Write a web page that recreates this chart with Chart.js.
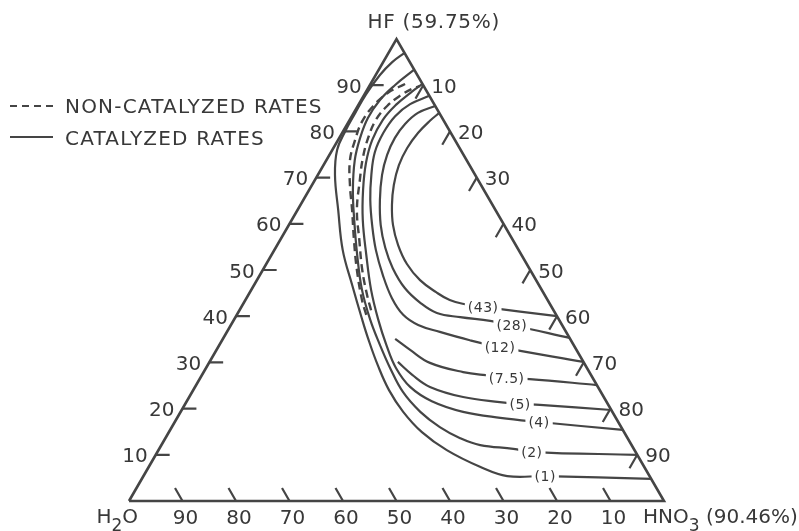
<!DOCTYPE html>
<html>
<head>
<meta charset="utf-8">
<script src="https://cdn.jsdelivr.net/npm/chart.js@4.4.1/dist/chart.umd.min.js"></script>
<style>
html, body { margin: 0; padding: 0; background: #fff; }
canvas { display: block; }
</style>
</head>
<body>
<canvas id="chart" width="799" height="531"></canvas>
<script>
// Compositions are written as [HNO3 %, HF %]; H2O makes up the remainder.

// Catalyzed etch-rate contours, listed from the HNO3-HF edge inwards.
const rateValues = [43, 28, 12, 7.5, 5, 4, 2, 1];

const curve43 = [[60.0,40.0],[45.2,42.0],[41.5,42.6],[38.2,43.5],[34.8,45.2],[30.5,47.8],[26.3,51.3],[22.6,55.4],[19.5,59.7],[17.1,64.1],[15.3,68.4],[14.1,72.7],[13.8,76.4],[14.2,79.7],[15.1,82.3],[16.0,84.0]];
const curve28 = [[64.7,35.3],[52.5,38.1],[48.0,39.0],[42.0,39.8],[37.2,40.7],[33.0,42.9],[28.5,46.1],[24.1,50.4],[20.5,54.8],[17.2,59.7],[14.3,65.2],[12.0,70.6],[10.8,74.9],[10.4,78.6],[10.8,81.6],[12.0,84.0],[14.5,85.5]];
const curve12 = [[69.9,30.1],[52.7,33.3],[46.3,34.8],[39.8,36.6],[35.0,38.1],[31.1,40.3],[27.2,43.9],[23.0,48.9],[19.0,54.3],[15.6,59.7],[12.5,65.2],[10.0,70.6],[8.2,75.5],[7.7,79.7],[8.1,83.3],[9.6,85.9],[12.3,87.7]];
const curve7p5 = [[74.9,25.1],[61.7,26.4],[57.3,26.6],[54.0,27.1],[48.5,27.9],[41.3,29.9],[36.2,32.7],[32.2,35.1]];
const curve5 = [[80.3,19.7],[66.4,20.8],[62.6,21.0],[58.6,21.4],[51.2,22.5],[43.9,24.7],[39.3,27.3],[35.2,30.1]];
const curve4 = [[84.6,15.4],[68.1,17.1],[60.4,18.0],[52.8,19.3],[45.8,21.6],[40.2,24.7],[35.5,28.8],[31.2,33.8],[27.0,39.2],[22.4,45.7],[17.7,53.3],[13.3,60.8],[10.1,67.3],[7.7,73.2],[6.4,78.1],[6.2,82.5],[7.1,85.9],[8.4,88.3],[9.7,90.3]];
const curve2 = [[90.0,10.0],[70.0,10.6],[66.2,11.3],[59.6,12.1],[55.1,13.6],[50.1,16.0],[44.8,19.3],[39.4,23.6],[34.4,28.8],[30.0,33.8],[25.5,39.2],[20.7,45.7],[16.0,53.3],[11.7,60.8],[8.2,67.3],[5.3,73.8],[3.9,78.6],[3.2,82.9],[3.5,86.8],[4.7,90.0],[6.6,93.3]];
const curve1 = [[95.2,4.8],[75.1,5.4],[68.0,5.4],[61.9,7.4],[53.9,11.0],[47.3,14.9],[41.6,19.3],[36.6,24.0],[31.8,29.4],[27.4,34.8],[23.7,39.6],[18.3,46.8],[12.8,54.3],[7.6,63.0],[3.2,70.6],[0.9,76.0],[0.4,80.0],[0.3,84.0],[0.3,88.0],[0.8,92.2],[1.7,95.0],[3.0,97.0]];

// Point of each contour where its rate label sits.
const labelIndex = [1, 1, 1, 2, 2, 1, 1, 1];

// Non-catalyzed rates.
const plainCurveA = [[24.2,40.3],[21.8,43.5],[17.6,50.0],[13.8,56.5],[10.2,63.0],[7.1,68.4],[4.4,73.8],[3.2,78.1],[2.5,82.0],[2.9,85.5],[4.2,88.3],[6.5,90.3]];
const plainCurveB = [[24.6,41.3],[22.2,44.6],[18.6,50.0],[14.8,56.5],[11.1,63.0],[8.4,69.5],[6.6,74.2],[5.4,78.6],[4.9,82.5],[5.5,85.5],[6.8,87.7],[8.3,89.2],[9.4,89.8]];

// Axis graduations (percent).
const edgeTicks = [10, 20, 30, 40, 50, 60, 70, 80, 90];
const waterTicks = [90, 80, 70, 60, 50, 40, 30, 20, 10];

const vertexHF = 'HF (59.75%)';
const vertexHNO3 = ['HNO', '3', ' (90.46%)'];
const vertexH2O = ['H', '2', 'O'];
const legendDashed = 'NON-CATALYZED RATES';
const legendSolid = 'CATALYZED RATES';

// ---------------------------------------------------------------
const catalyzedCurves = [curve43, curve28, curve12, curve7p5, curve5, curve4, curve2, curve1];
const INK = '#454545';
const TEXT = '#383838';
const FONT = '"DejaVu Sans", "Liberation Sans", sans-serif';
const H = Math.sqrt(3) / 2;

// Ternary [HNO3, HF] -> plane coordinates (H2O at origin, HNO3 to the right).
function toPlane(c) {
  return { x: c[0] + c[1] / 2, y: c[1] * H };
}
const GAP = { x: null, y: null };

// Frame of the triangle on the canvas.
const W = 799, HT = 531;
const triLeft = 129, triRight = 664, triBase = 501, triApex = 39;
const unitX = (triRight - triLeft) / 100;
const unitY = (triBase - triApex) / (100 * H);
const xMin = -triLeft / unitX, xMax = xMin + W / unitX;
const yMin = -(HT - triBase) / unitY, yMax = yMin + HT / unitY;

function segments(pairs) {
  const out = [];
  pairs.forEach(([a, b]) => { out.push(toPlane(a), toPlane(b), GAP); });
  return out;
}

const tickData = segments([
  ...edgeTicks.map(v => [[0, v], [2.6, v]]),
  ...edgeTicks.map(v => [[v, 100 - v], [v, 100 - v - 2.9]]),
  ...waterTicks.map(h => [[100 - h, 0], [100 - h - 2.8, 2.8]])
]);

const datasets = [];
datasets.push({
  data: [[0, 0], [100, 0], [0, 100], [0, 0]].map(toPlane),
  borderColor: INK, borderWidth: 2.6, tension: 0, borderJoinStyle: 'miter'
});
datasets.push({ data: tickData, borderColor: INK, borderWidth: 2.2, tension: 0, spanGaps: false });
catalyzedCurves.forEach(curve => {
  datasets.push({ data: curve.map(toPlane), borderColor: INK, borderWidth: 2.2, tension: 0.4 });
});
[plainCurveA, plainCurveB].forEach(curve => {
  datasets.push({ data: curve.map(toPlane), borderColor: INK, borderWidth: 2.4, tension: 0.4, borderDash: [8, 5] });
});
datasets.forEach(d => { d.showLine = true; d.pointRadius = 0; d.fill = false; });

function drawParts(ctx, parts, x, y) {
  // parts: [text, subscript, text]
  parts.forEach((t, i) => {
    const sub = i === 1;
    ctx.font = (sub ? '17px ' : '20px ') + FONT;
    ctx.fillText(t, x, y + (sub ? 8 : 0));
    x += ctx.measureText(t).width;
  });
}
function partsWidth(ctx, parts) {
  let w = 0;
  parts.forEach((t, i) => { ctx.font = (i === 1 ? '17px ' : '20px ') + FONT; w += ctx.measureText(t).width; });
  return w;
}
function spacing(ctx, v) {
  if ('letterSpacing' in ctx) ctx.letterSpacing = v;
}

const annotations = {
  id: 'annotations',
  beforeDraw(chart) {
    const ctx = chart.ctx;
    ctx.save();
    ctx.fillStyle = '#fff';
    ctx.fillRect(0, 0, chart.width, chart.height);
    ctx.restore();
  },
  afterDatasetsDraw(chart) {
    const ctx = chart.ctx, sx = chart.scales.x, sy = chart.scales.y;
    const pix = c => { const p = toPlane(c); return [sx.getPixelForValue(p.x), sy.getPixelForValue(p.y)]; };
    ctx.save();
    spacing(ctx, '0.5px');

    // contour rate labels, set into a break in the line
    ctx.font = '14px ' + FONT;
    ctx.textAlign = 'center';
    ctx.textBaseline = 'middle';
    catalyzedCurves.forEach((curve, i) => {
      const [x, y] = pix(curve[labelIndex[i]]);
      const text = '(' + rateValues[i] + ')';
      const w = ctx.measureText(text).width + 6;
      ctx.fillStyle = '#fff';
      ctx.fillRect(x - w / 2, y - 7, w, 14);
      ctx.fillStyle = TEXT;
      ctx.fillText(text, x, y + 1);
    });

    spacing(ctx, '0px');
    ctx.font = '20px ' + FONT;
    ctx.textBaseline = 'alphabetic';
    ctx.fillStyle = TEXT;
    // HF scale on the left edge
    ctx.textAlign = 'right';
    edgeTicks.forEach(v => {
      const [x, y] = pix([0, v]);
      ctx.fillText(String(v), x - 8, y + 7.5);
    });
    // HNO3 scale on the right edge
    ctx.textAlign = 'left';
    edgeTicks.forEach(v => {
      const [x, y] = pix([v, 100 - v]);
      ctx.fillText(String(v), x + 8, y + 7.5);
    });
    // H2O scale along the base
    ctx.textAlign = 'center';
    waterTicks.forEach(h => {
      const [x, y] = pix([100 - h, 0]);
      ctx.fillText(String(h), x + 3, y + 23);
    });

    // vertex names
    ctx.textAlign = 'left';
    spacing(ctx, '0.7px');
    const top = pix([0, 100]);
    ctx.font = '20px ' + FONT;
    ctx.fillText(vertexHF, top[0] - 29, top[1] - 11);
    spacing(ctx, '0px');
    const right = pix([100, 0]);
    drawParts(ctx, vertexHNO3, right[0] - 21, right[1] + 22);
    const left = pix([0, 0]);
    drawParts(ctx, vertexH2O, left[0] + 9 - partsWidth(ctx, vertexH2O), left[1] + 22);

    // legend
    ctx.strokeStyle = INK;
    ctx.lineWidth = 2.2;
    ctx.setLineDash([7, 5]);
    ctx.beginPath(); ctx.moveTo(10, 106); ctx.lineTo(53, 106); ctx.stroke();
    ctx.setLineDash([]);
    ctx.beginPath(); ctx.moveTo(10, 137); ctx.lineTo(53, 137); ctx.stroke();
    spacing(ctx, '1.2px');
    ctx.font = '20px ' + FONT;
    ctx.fillText(legendDashed, 65, 113);
    ctx.fillText(legendSolid, 65, 145);
    ctx.restore();
  }
};

new Chart(document.getElementById('chart'), {
  type: 'scatter',
  data: { datasets },
  options: {
    responsive: false,
    devicePixelRatio: 1,
    animation: false,
    layout: { padding: 0 },
    plugins: { legend: { display: false }, tooltip: { enabled: false }, title: { display: false } },
    scales: {
      x: { type: 'linear', min: xMin, max: xMax, display: false },
      y: { type: 'linear', min: yMin, max: yMax, display: false }
    },
    elements: { point: { radius: 0 } }
  },
  plugins: [annotations]
});
</script>
</body>
</html>
